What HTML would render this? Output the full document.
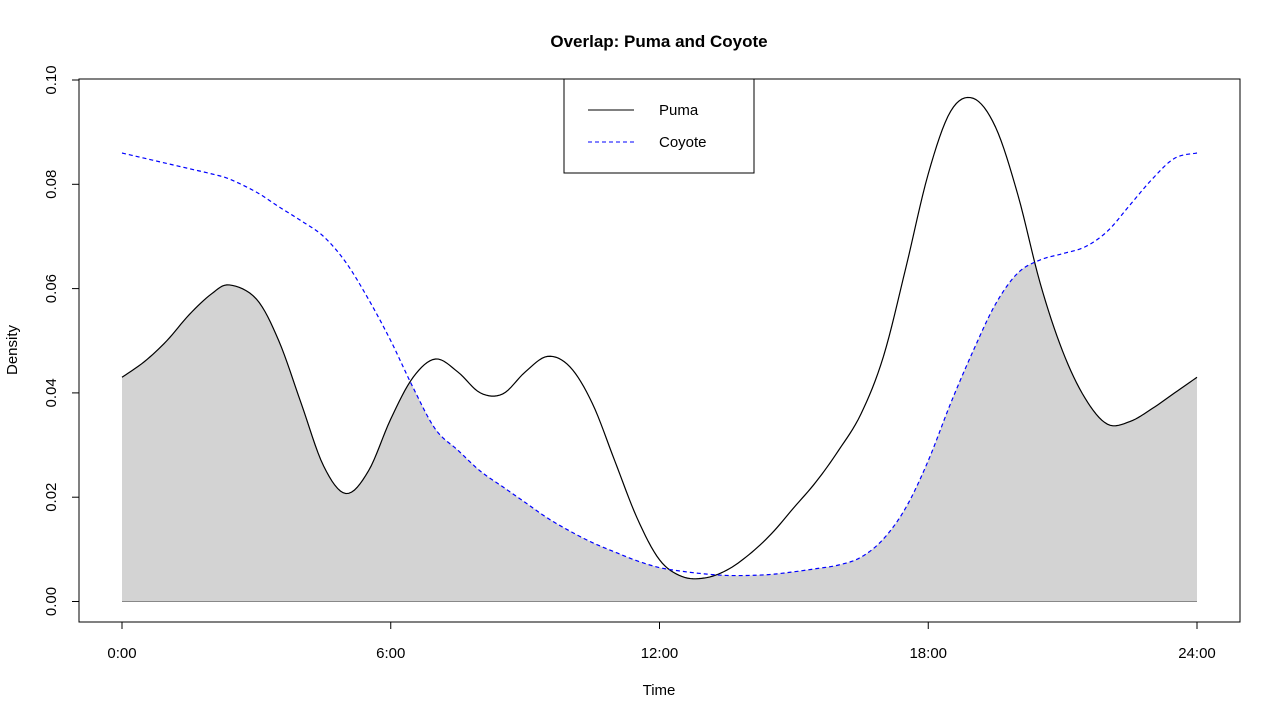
<!DOCTYPE html>
<html><head><meta charset="utf-8"><style>
body{margin:0;background:#fff;font-family:"Liberation Sans",sans-serif}
svg text{font-family:"Liberation Sans",sans-serif}
</style></head><body>
<svg id="c" width="1280" height="720" xmlns="http://www.w3.org/2000/svg">
<text x="659" y="47" text-anchor="middle" font-size="17" font-weight="bold">Overlap: Puma and Coyote</text>
<text x="659" y="695" text-anchor="middle" font-size="15">Time</text>
<text transform="translate(17,350) rotate(-90)" text-anchor="middle" font-size="15">Density</text>
<g id="plot"></g>
<rect x="79" y="79" width="1161" height="543" fill="none" stroke="#000"/>
<g>
<rect x="564" y="79" width="190" height="94" fill="#fff" stroke="#000"/>
<line x1="588" y1="110" x2="634" y2="110" stroke="#000"/>
<text x="659" y="115" font-size="15">Puma</text>
<line x1="588" y1="142" x2="634" y2="142" stroke="#00f" stroke-dasharray="4,3"/>
<text x="659" y="147" font-size="15">Coyote</text>
</g>
</svg>
<script>
const hours=[0,0.5,1,1.5,2,2.4,3,3.5,4,4.5,5,5.5,6,6.5,7,7.5,8,8.5,9,9.5,10,10.5,11,11.5,12,12.5,13,13.5,14,14.5,15,15.5,16,16.5,17,17.5,18,18.5,19,19.5,20,20.5,21,21.5,22,22.5,23,23.5,24];
const puma=[0.043,0.046,0.050,0.055,0.059,0.0607,0.058,0.050,0.038,0.026,0.0207,0.025,0.035,0.043,0.0465,0.044,0.040,0.0398,0.044,0.047,0.045,0.038,0.027,0.016,0.008,0.0048,0.0045,0.006,0.009,0.013,0.018,0.023,0.029,0.036,0.047,0.064,0.082,0.094,0.0965,0.091,0.078,0.061,0.048,0.039,0.034,0.0345,0.037,0.040,0.043];
const coyote=[0.086,0.085,0.084,0.083,0.082,0.081,0.0785,0.0757,0.073,0.070,0.065,0.058,0.050,0.041,0.033,0.029,0.025,0.022,0.019,0.016,0.0135,0.0113,0.0095,0.0078,0.0065,0.0058,0.0053,0.005,0.005,0.0052,0.0057,0.0063,0.007,0.0085,0.012,0.018,0.027,0.038,0.048,0.057,0.063,0.0655,0.0667,0.068,0.071,0.076,0.081,0.085,0.086];
const yTicks=[0,0.02,0.04,0.06,0.08,0.10];
const yTickLabels=["0.00","0.02","0.04","0.06","0.08","0.10"];
const xTicks=[0,6,12,18,24];
const xTickLabels=["0:00","6:00","12:00","18:00","24:00"];
const NS="http://www.w3.org/2000/svg";
const X=h=>122+h*(1075/24);
const Y=v=>601.5-v*5215;
const g=document.getElementById('plot');
function mk(t,a){const e=document.createElementNS(NS,t);for(const k in a)e.setAttribute(k,a[k]);g.appendChild(e);return e;}
// Catmull-Rom densification
function dense(xs,ys){
 const out=[];const n=xs.length;
 for(let i=0;i<n-1;i++){
  const x0=xs[Math.max(i-1,0)],x1=xs[i],x2=xs[i+1],x3=xs[Math.min(i+2,n-1)];
  const y0=ys[Math.max(i-1,0)],y1=ys[i],y2=ys[i+1],y3=ys[Math.min(i+2,n-1)];
  for(let s=0;s<8;s++){const t=s/8,t2=t*t,t3=t2*t;
   const f=(p0,p1,p2,p3)=>0.5*((2*p1)+(-p0+p2)*t+(2*p0-5*p1+4*p2-p3)*t2+(-p0+3*p1-3*p2+p3)*t3);
   out.push([f(x0,x1,x2,x3),f(y0,y1,y2,y3)]);}
 }
 out.push([xs[n-1],ys[n-1]]);return out;
}
const pD=dense(hours,puma),cD=dense(hours,coyote);
let d='M'+X(0)+','+Y(0);
pD.forEach((p,i)=>{d+=' L'+X(p[0])+','+Y(Math.min(p[1],cD[i][1]));});
d+=' L'+X(24)+','+Y(0)+' Z';
const area=mk('path',{d:d,fill:'#d3d3d3',stroke:'none'});


const base=mk('line',{x1:X(0),y1:Y(0),x2:X(24),y2:Y(0),stroke:'#888'});


const pp=mk('polyline',{points:pD.map(p=>X(p[0])+','+Y(p[1])).join(' '),fill:'none',stroke:'#000','stroke-width':1.2});


const cp=mk('polyline',{points:cD.map(p=>X(p[0])+','+Y(p[1])).join(' '),fill:'none',stroke:'#00f','stroke-width':1.2,'stroke-dasharray':'4,3'});


yTicks.forEach((v,i)=>{
 const t=mk('line',{x1:72,y1:Y(v),x2:79,y2:Y(v),stroke:'#000'});
 
 
 const l=mk('text',{transform:'translate(56,'+Y(v)+') rotate(-90)','text-anchor':'middle','font-size':15});
 l.textContent=yTickLabels[i];
 
 
});
xTicks.forEach((h,i)=>{
 const t=mk('line',{x1:X(h),y1:622,x2:X(h),y2:629,stroke:'#000'});
 
 
 const l=mk('text',{x:X(h),y:658,'text-anchor':'middle','font-size':15});
 l.textContent=xTickLabels[i];
 
 
});
</script>
</body></html>
